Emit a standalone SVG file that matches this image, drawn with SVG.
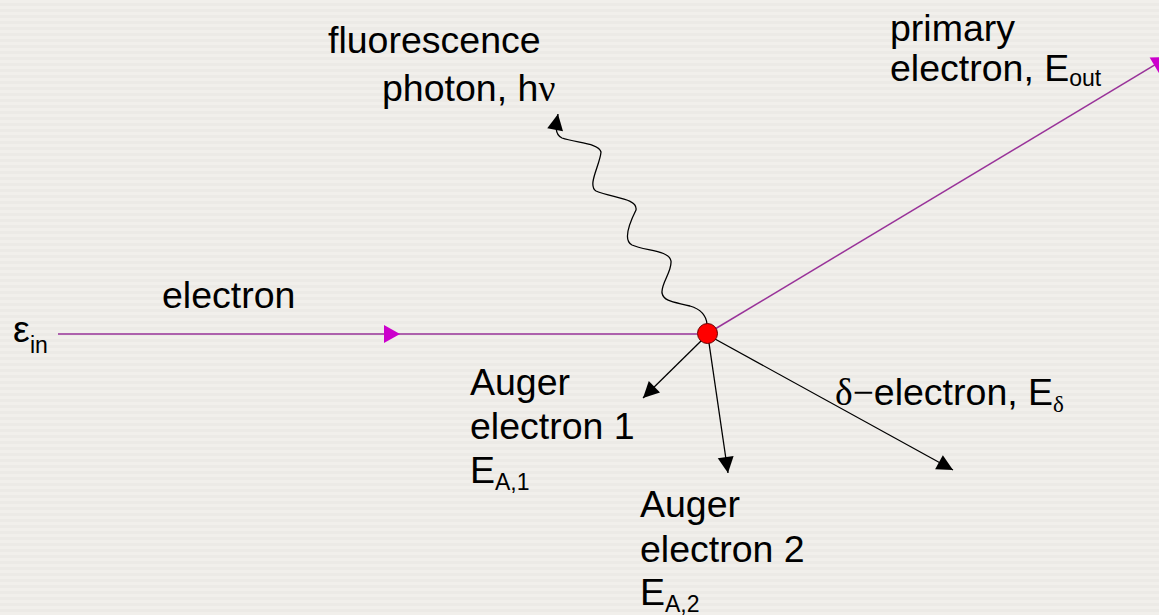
<svg xmlns="http://www.w3.org/2000/svg" width="1159" height="615" viewBox="0 0 1159 615">
  <defs>
    <pattern id="bg" width="8" height="6" patternUnits="userSpaceOnUse">
      <rect width="8" height="6" fill="#ECEAE6"/>
      <rect y="0" width="8" height="3" fill="#F1EFEB"/>
    </pattern>
    <marker id="ah" markerUnits="userSpaceOnUse" markerWidth="17" markerHeight="17" refX="16" refY="8" orient="auto" overflow="visible">
      <path d="M0,0 L16,8 L0,16 z" fill="#000"/>
    </marker>
    <marker id="ahm" markerUnits="userSpaceOnUse" markerWidth="17" markerHeight="19" refX="16" refY="9" orient="auto" overflow="visible">
      <path d="M0,0 L16,9 L0,18 z" fill="#CC00CC"/>
    </marker>
    <style>
      .t { font-family: "Liberation Sans", Arial, sans-serif; font-size: 37.5px; fill: #000; }
      .sub { font-size: 23px; }
      .g { font-family: "Liberation Serif", "Times New Roman", serif; }
      .blk { stroke: #000; stroke-width: 1.3; fill: none; }
      .mag { stroke: #993399; stroke-width: 1.5; fill: none; }
    </style>
  </defs>
  <rect width="1159" height="615" fill="url(#bg)"/>

  <g id="connectors">
    <polyline id="incoming" class="mag" points="58,334 400,334 697,334" marker-mid="url(#ahm)"/>
    <line id="primary-out" class="mag" x1="715" y1="329" x2="1168" y2="57" marker-end="url(#ahm)"/>
    <path id="photon" class="blk" d="M707,324 C706,314 700,309 690,306 C675,302 664,302 662,293 C661,283 672,272 671,261 C669,250 645,251 632,245 C622,240 630,222 636,210 C638,198 612,198 596,191 C587,185 600,165 601,152 C599,143 576,143 562,138 C554,134 556,125 558,114" marker-end="url(#ah)"/>
    <line id="auger1" class="blk" x1="702" y1="340" x2="643" y2="398" marker-end="url(#ah)"/>
    <line id="auger2" class="blk" x1="709" y1="343" x2="728" y2="473" marker-end="url(#ah)"/>
    <line id="delta" class="blk" x1="715" y1="339" x2="953" y2="470" marker-end="url(#ah)"/>
  </g>

  <g id="collision">
    <circle cx="707.5" cy="333.5" r="10" fill="#FF0000" stroke="#660000" stroke-width="1"/>
  </g>

  <g id="label-electron">
    <text class="t" x="162" y="308">electron</text>
  </g>
  <g id="label-ein">
    <text class="t" x="13" y="342">ε<tspan class="sub" x="30" y="353">in</tspan></text>
  </g>
  <g id="label-photon">
    <text class="t" x="328" y="53">fluorescence</text>
    <text class="t" x="382" y="101">photon, h<tspan class="g">ν</tspan></text>
  </g>
  <g id="label-primary">
    <text class="t" x="890" y="41">primary</text>
    <text class="t" x="890" y="81">electron, E<tspan class="sub" dy="5">out</tspan></text>
  </g>
  <g id="label-auger1">
    <text class="t" x="470" y="395">Auger</text>
    <text class="t" x="470" y="439">electron 1</text>
    <text class="t" x="470" y="483">E<tspan class="sub" dy="7">A,1</tspan></text>
  </g>
  <g id="label-auger2">
    <text class="t" x="640" y="517">Auger</text>
    <text class="t" x="640" y="562">electron 2</text>
    <text class="t" x="640" y="605">E<tspan class="sub" dy="7">A,2</tspan></text>
  </g>
  <g id="label-delta">
    <text class="t" x="835" y="405"><tspan class="g">δ−</tspan>electron, E<tspan class="sub g" dy="7">δ</tspan></text>
  </g>
</svg>
